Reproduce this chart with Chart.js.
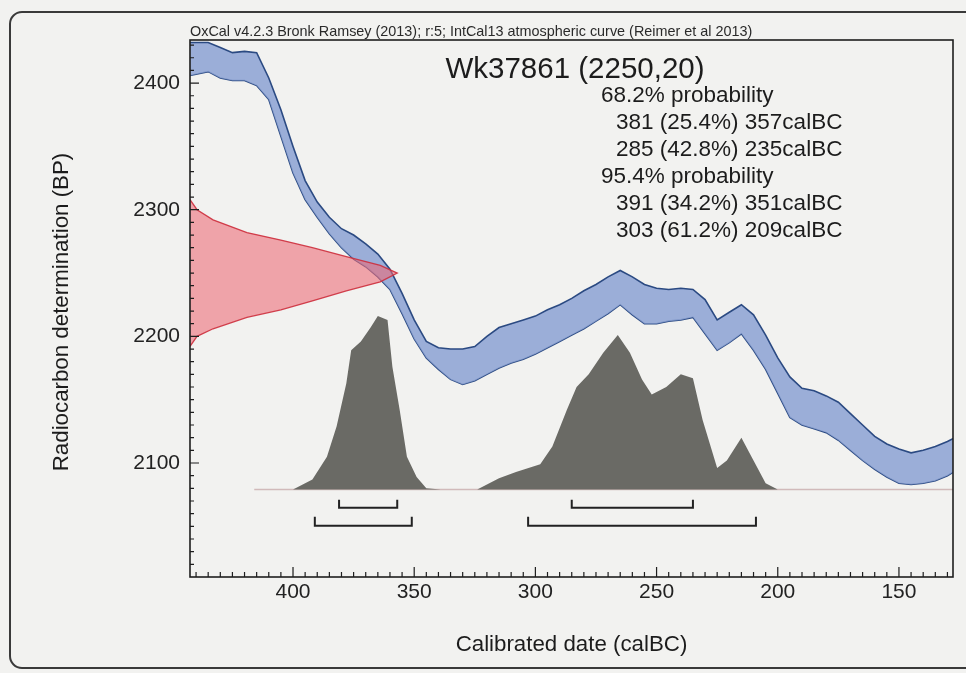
<!DOCTYPE html>
<html lang="en">
<head>
<meta charset="UTF-8">
<title>Wk37861 calibration</title>
<script src="https://cdn.jsdelivr.net/npm/chart.js"></script>
<style>
  html, body { margin: 0; padding: 0; background: #f2f2f0; }
  #wrap { width: 966px; height: 673px; position: relative; }
</style>
</head>
<body>
<div id="wrap"><canvas id="calChart"></canvas></div>
<script>
// IntCal13 band: calBC years and BP edges
const curveYears = [445, 440, 435, 430, 425, 420, 415, 410, 405, 400, 395, 390, 385, 380, 375, 370, 365, 360, 355, 350,
    345, 340, 335, 330, 325, 320, 315, 310, 305, 300, 295, 290, 285, 280, 275, 270, 265, 260, 255, 250,
    245, 240, 235, 230, 225, 220, 215, 210, 205, 200, 195, 190, 185, 180, 175, 170, 165, 160, 155, 150,
    145, 140, 135, 130, 125];
const curveUpper = [2432, 2432, 2432, 2428, 2424, 2425, 2424, 2404, 2379, 2350, 2323, 2306, 2294, 2285, 2280, 2273, 2265, 2253, 2234, 2213,
    2196, 2191, 2190, 2190, 2192, 2200, 2207, 2210, 2213, 2216, 2221, 2225, 2230, 2236, 2241, 2247, 2252, 2247, 2241, 2238,
    2237, 2238, 2237, 2229, 2213, 2219, 2225, 2217, 2201, 2183, 2168, 2159, 2157, 2153, 2148, 2139, 2130, 2121, 2115, 2111,
    2108, 2110, 2113, 2117, 2122];
const curveLower = [2405, 2407, 2409, 2404, 2402, 2402, 2398, 2387, 2358, 2329, 2308, 2294, 2281, 2270, 2261, 2255, 2247, 2237, 2218, 2198,
    2183, 2174, 2166, 2162, 2165, 2170, 2175, 2179, 2182, 2186, 2191, 2196, 2201, 2206, 2212, 2218, 2225, 2217, 2210, 2210,
    2212, 2213, 2215, 2202, 2189, 2195, 2202, 2189, 2174, 2155, 2136, 2130, 2127, 2124, 2118, 2110, 2102, 2095, 2089, 2084,
    2083, 2084, 2086, 2090, 2096];

const gaussBP = [2308, 2300, 2292, 2282, 2276, 2270, 2263, 2256, 2250, 2243, 2236, 2228, 2221, 2215, 2206, 2200, 2192];
const gaussYr = [442.5, 439.6, 433, 419, 405, 392, 378, 364, 357, 364, 378, 392, 405, 419, 433, 439.6, 442.5];

// calibrated probability (grey), drawn in BP units above its base line
const histBase = 2079;
const histYears = [400, 392, 386, 382, 378, 376, 372, 368, 365, 361, 359, 356, 353, 349, 345, 339,
    324, 315, 308, 298, 293, 287, 283, 278, 272, 266, 261, 256, 252, 246, 240, 235, 231, 225, 221, 215, 210, 205, 200];
const histBP = [2079, 2087, 2105, 2129, 2163, 2189, 2196, 2207, 2216, 2213, 2176, 2142, 2105, 2089, 2080, 2079,
    2079, 2088, 2093, 2099, 2113, 2142, 2160, 2170, 2187, 2201, 2187, 2166, 2154, 2160, 2170, 2167, 2134, 2096, 2102, 2120, 2102, 2084, 2079];

// ranges
const range68From = [381, 285];
const range68To = [357, 235];
const range68Pct = [25.4, 42.8];
const range95From = [391, 303];
const range95To = [351, 209];
const range95Pct = [34.2, 61.2];

const xTicks = [400, 350, 300, 250, 200, 150];
const yTicks = [2100, 2200, 2300, 2400];

const headerText = 'OxCal v4.2.3 Bronk Ramsey (2013); r:5; IntCal13 atmospheric curve (Reimer et al 2013)';
const sampleTitle = 'Wk37861 (2250,20)';

const FONT = '"Liberation Sans", Arial, Helvetica, sans-serif';

function pts(xs, ys) {
    return xs.map((v, i) => ({ x: v, y: ys[i] }));
}

function bracket(from, to, barY, tipY) {
    return [{ x: from, y: tipY }, { x: from, y: barY }, { x: to, y: barY }, { x: to, y: tipY }];
}

function rangeLine(from, pct, to) {
    return `${from} (${pct.toFixed(1)}%) ${to}calBC`;
}

const datasets = [
    {   // red measurement
        data: pts(gaussYr, gaussBP),
        borderColor: 'rgba(205,45,60,0.9)',
        borderWidth: 1.3,
        backgroundColor: 'rgba(236,105,118,0.58)',
        fill: 'shape',
        order: 0
    },
    {   // band upper edge, filled down to the lower edge
        data: pts(curveYears, curveUpper),
        borderColor: '#2b4a82',
        borderWidth: 1.6,
        backgroundColor: 'rgba(140,162,212,0.85)',
        fill: '+1',
        order: 1
    },
    {
        data: pts(curveYears, curveLower),
        borderColor: '#2b4a82',
        borderWidth: 1.6,
        fill: false,
        order: 1
    },
    {   // base line of the probability
        data: [{ x: 416, y: histBase }, { x: 127.7, y: histBase }],
        borderColor: 'rgba(205,180,180,0.9)',
        borderWidth: 1.5,
        fill: false,
        order: 3
    },
    {
        data: pts(histYears, histBP),
        borderColor: 'rgba(0,0,0,0)',
        borderWidth: 0,
        backgroundColor: '#6a6a65',
        fill: { value: histBase },
        order: 2
    }
];

range68From.forEach((f, i) => {
    datasets.push({ data: bracket(f, range68To[i], 2064.6, 2071), borderColor: '#222', borderWidth: 2, fill: false, order: 0 });
});
range95From.forEach((f, i) => {
    datasets.push({ data: bracket(f, range95To[i], 2050.4, 2057.5), borderColor: '#222', borderWidth: 2, fill: false, order: 0 });
});

const probLines = [
    { text: '68.2% probability', indent: false },
    ...range68From.map((f, i) => ({ text: rangeLine(f, range68Pct[i], range68To[i]), indent: true })),
    { text: '95.4% probability', indent: false },
    ...range95From.map((f, i) => ({ text: rangeLine(f, range95Pct[i], range95To[i]), indent: true }))
];

// frame, inward ticks and the texts OxCal puts on the plot
const oxcalDecor = {
    id: 'oxcalDecor',
    beforeDraw(chart) {
        const ctx = chart.ctx;
        ctx.save();
        ctx.fillStyle = '#f2f2f0';
        ctx.fillRect(0, 0, chart.width, chart.height);
        // outer rounded box (runs off the right edge)
        const l = 10, t = 12, r = 990, b = 668, rad = 12;
        ctx.strokeStyle = '#3a3a3a';
        ctx.lineWidth = 2;
        ctx.beginPath();
        ctx.moveTo(l + rad, t);
        ctx.lineTo(r, t);
        ctx.moveTo(r, b);
        ctx.lineTo(l + rad, b);
        ctx.arcTo(l, b, l, b - rad, rad);
        ctx.lineTo(l, t + rad);
        ctx.arcTo(l, t, l + rad, t, rad);
        ctx.stroke();
        ctx.restore();
    },
    afterDraw(chart) {
        const { ctx, chartArea: a, scales: { x, y } } = chart;
        ctx.save();
        ctx.strokeStyle = '#1e1e1e';
        ctx.lineWidth = 1.6;
        ctx.strokeRect(a.left, a.top, a.right - a.left, a.bottom - a.top);

        ctx.lineWidth = 1.2;
        ctx.beginPath();
        for (let v = 130; v <= 440; v += 5) {
            const px = x.getPixelForValue(v);
            const len = v % 50 === 0 ? 10 : 5;
            ctx.moveTo(px, a.bottom);
            ctx.lineTo(px, a.bottom - len);
        }
        for (let v = 2020; v <= 2430; v += 10) {
            const py = y.getPixelForValue(v);
            const len = v % 100 === 0 ? 9 : 4;
            ctx.moveTo(a.left, py);
            ctx.lineTo(a.left + len, py);
        }
        ctx.stroke();

        ctx.fillStyle = '#2a2a2a';
        ctx.textBaseline = 'alphabetic';
        ctx.textAlign = 'left';
        ctx.font = '14.4px ' + FONT;
        ctx.fillText(headerText, a.left, a.top - 4);

        ctx.fillStyle = '#1c1c1c';
        ctx.textBaseline = 'middle';
        ctx.textAlign = 'center';
        ctx.font = '29.5px ' + FONT;
        ctx.fillText(sampleTitle, 575, 70);

        ctx.textAlign = 'left';
        ctx.font = '22.5px ' + FONT;
        probLines.forEach((ln, i) => {
            ctx.fillText(ln.text, ln.indent ? 616 : 601, 96 + i * 27);
        });

        ctx.textAlign = 'center';
        ctx.font = '22.3px ' + FONT;
        ctx.fillText('Calibrated date (calBC)', (a.left + a.right) / 2, 645);
        ctx.translate(62, 312);
        ctx.rotate(-Math.PI / 2);
        ctx.fillText('Radiocarbon determination (BP)', 0, 0);
        ctx.restore();
    }
};

new Chart(document.getElementById('calChart'), {
    type: 'line',
    data: { datasets },
    options: {
        responsive: true,
        maintainAspectRatio: false,
        animation: false,
        layout: { padding: { top: 40, right: 13, left: 0, bottom: 0 } },
        elements: { point: { radius: 0 }, line: { tension: 0 } },
        plugins: { legend: { display: false }, tooltip: { enabled: false } },
        scales: {
            x: {
                type: 'linear',
                reverse: true,
                min: 127.7,
                max: 442.5,
                afterFit: s => { s.height = 96; },
                afterBuildTicks: s => { s.ticks = xTicks.map(v => ({ value: v })); },
                grid: { display: false, drawTicks: false },
                border: { display: false },
                ticks: { padding: 3, color: '#222', font: { family: FONT, size: 21 }, callback: v => String(v) }
            },
            y: {
                type: 'linear',
                min: 2010,
                max: 2434,
                afterFit: s => { s.width = 190; },
                afterBuildTicks: s => { s.ticks = yTicks.map(v => ({ value: v })); },
                grid: { display: false, drawTicks: false },
                border: { display: false },
                ticks: { padding: 10, color: '#222', font: { family: FONT, size: 21 }, callback: v => String(v) }
            }
        }
    },
    plugins: [oxcalDecor]
});
</script>
</body>
</html>
